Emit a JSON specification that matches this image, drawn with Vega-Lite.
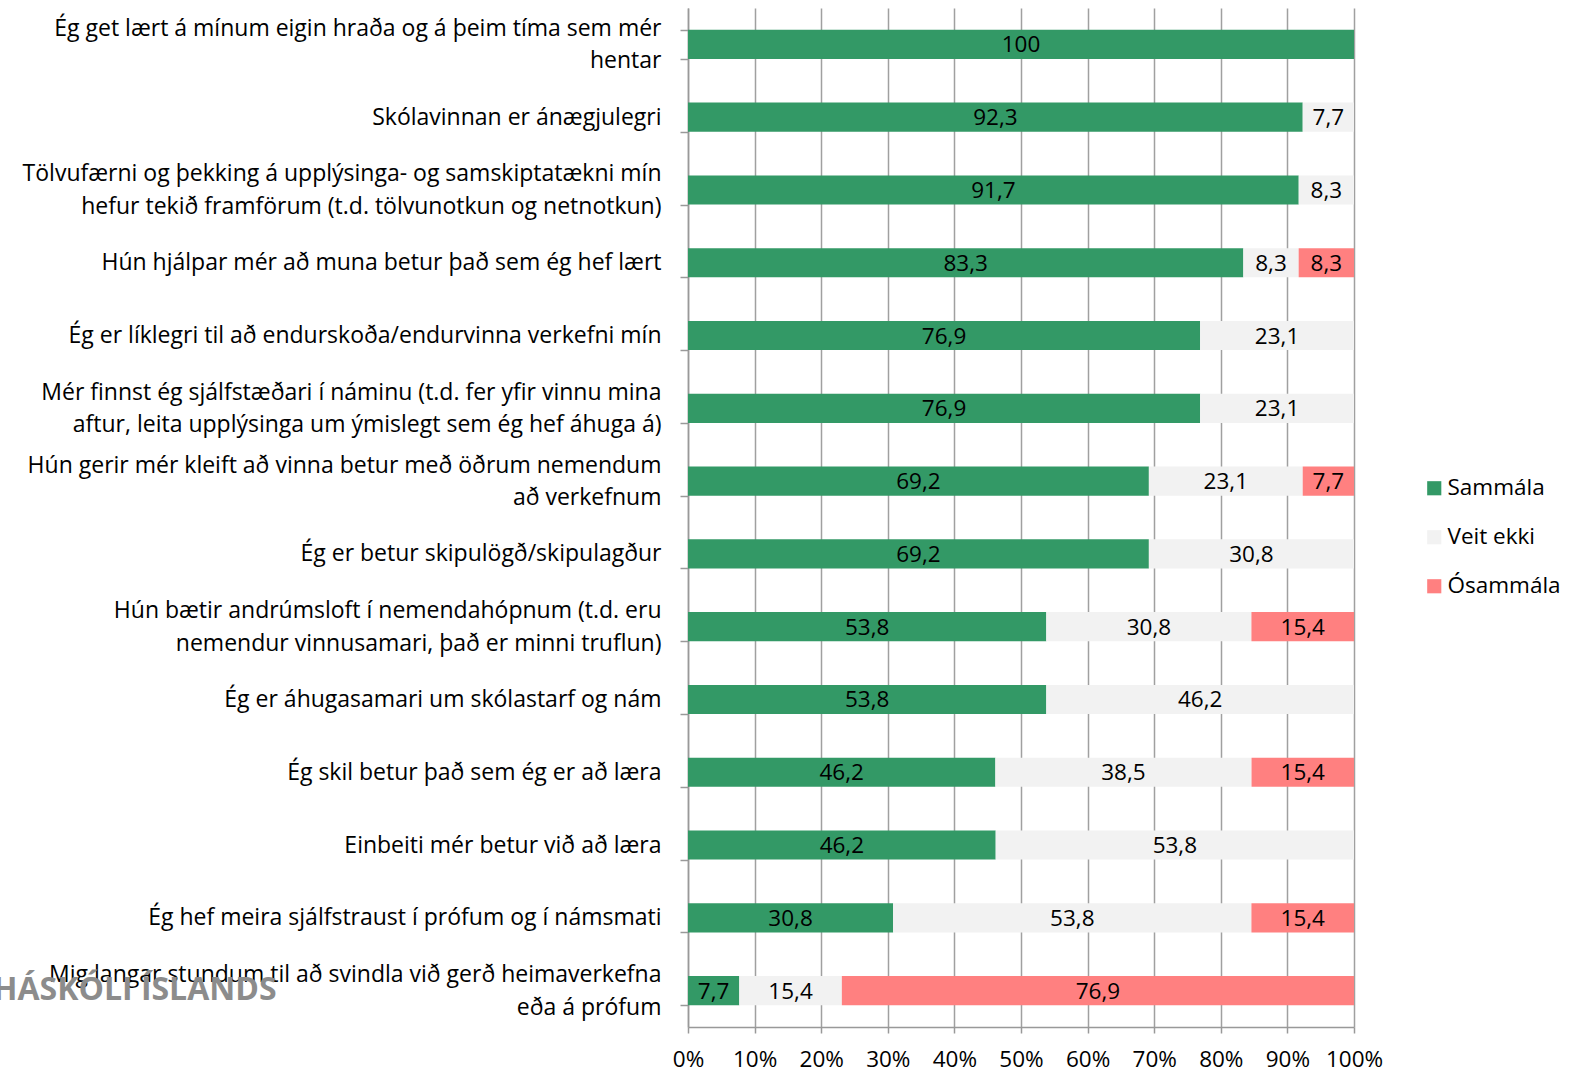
{
  "$schema": "https://vega.github.io/schema/vega-lite/v6.json",
  "width": 666,
  "height": 1019,
  "autosize": {"type": "none"},
  "padding": {"left": 688, "top": 8, "right": 222, "bottom": 45},
  "background": "white",
  "config": {
    "font": "Open Sans",
    "view": {"stroke": null},
    "locale": {"number": {"decimal": ",", "thousands": ".", "grouping": [3], "currency": ["", ""]}}
  },
  "title": {
    "text": "HÁSKÓLI ÍSLANDS",
    "orient": "bottom",
    "anchor": "start",
    "frame": "group",
    "dx": -695,
    "dy": -100,
    "font": "Open Sans",
    "fontSize": 32,
    "fontWeight": "bold",
    "color": "#8c8c8c"
  },
  "resolve": {"axis": {"y": "independent"}},
  "data": {
    "values": [
      {"q": "Ég get lært á mínum eigin hraða og á þeim tíma sem mér|hentar", "a": "Sammála", "v": 100},
      {"q": "Ég get lært á mínum eigin hraða og á þeim tíma sem mér|hentar", "a": "Veit ekki", "v": 0},
      {"q": "Ég get lært á mínum eigin hraða og á þeim tíma sem mér|hentar", "a": "Ósammála", "v": 0},
      {"q": "Skólavinnan er ánægjulegri", "a": "Sammála", "v": 92.3},
      {"q": "Skólavinnan er ánægjulegri", "a": "Veit ekki", "v": 7.7},
      {"q": "Skólavinnan er ánægjulegri", "a": "Ósammála", "v": 0},
      {"q": "Tölvufærni og þekking á upplýsinga- og samskiptatækni mín|hefur tekið framförum (t.d. tölvunotkun og netnotkun)", "a": "Sammála", "v": 91.7},
      {"q": "Tölvufærni og þekking á upplýsinga- og samskiptatækni mín|hefur tekið framförum (t.d. tölvunotkun og netnotkun)", "a": "Veit ekki", "v": 8.3},
      {"q": "Tölvufærni og þekking á upplýsinga- og samskiptatækni mín|hefur tekið framförum (t.d. tölvunotkun og netnotkun)", "a": "Ósammála", "v": 0},
      {"q": "Hún hjálpar mér að muna betur það sem ég hef lært", "a": "Sammála", "v": 83.3},
      {"q": "Hún hjálpar mér að muna betur það sem ég hef lært", "a": "Veit ekki", "v": 8.3},
      {"q": "Hún hjálpar mér að muna betur það sem ég hef lært", "a": "Ósammála", "v": 8.3},
      {"q": "Ég er líklegri til að endurskoða/endurvinna verkefni mín", "a": "Sammála", "v": 76.9},
      {"q": "Ég er líklegri til að endurskoða/endurvinna verkefni mín", "a": "Veit ekki", "v": 23.1},
      {"q": "Ég er líklegri til að endurskoða/endurvinna verkefni mín", "a": "Ósammála", "v": 0},
      {"q": "Mér finnst ég sjálfstæðari í náminu (t.d. fer yfir vinnu mina|aftur, leita upplýsinga um ýmislegt sem ég hef áhuga á)", "a": "Sammála", "v": 76.9},
      {"q": "Mér finnst ég sjálfstæðari í náminu (t.d. fer yfir vinnu mina|aftur, leita upplýsinga um ýmislegt sem ég hef áhuga á)", "a": "Veit ekki", "v": 23.1},
      {"q": "Mér finnst ég sjálfstæðari í náminu (t.d. fer yfir vinnu mina|aftur, leita upplýsinga um ýmislegt sem ég hef áhuga á)", "a": "Ósammála", "v": 0},
      {"q": "Hún gerir mér kleift að vinna betur með öðrum nemendum|að verkefnum", "a": "Sammála", "v": 69.2},
      {"q": "Hún gerir mér kleift að vinna betur með öðrum nemendum|að verkefnum", "a": "Veit ekki", "v": 23.1},
      {"q": "Hún gerir mér kleift að vinna betur með öðrum nemendum|að verkefnum", "a": "Ósammála", "v": 7.7},
      {"q": "Ég er betur skipulögð/skipulagður", "a": "Sammála", "v": 69.2},
      {"q": "Ég er betur skipulögð/skipulagður", "a": "Veit ekki", "v": 30.8},
      {"q": "Ég er betur skipulögð/skipulagður", "a": "Ósammála", "v": 0},
      {"q": "Hún bætir andrúmsloft í nemendahópnum (t.d. eru|nemendur vinnusamari, það er minni truflun)", "a": "Sammála", "v": 53.8},
      {"q": "Hún bætir andrúmsloft í nemendahópnum (t.d. eru|nemendur vinnusamari, það er minni truflun)", "a": "Veit ekki", "v": 30.8},
      {"q": "Hún bætir andrúmsloft í nemendahópnum (t.d. eru|nemendur vinnusamari, það er minni truflun)", "a": "Ósammála", "v": 15.4},
      {"q": "Ég er áhugasamari um skólastarf og nám", "a": "Sammála", "v": 53.8},
      {"q": "Ég er áhugasamari um skólastarf og nám", "a": "Veit ekki", "v": 46.2},
      {"q": "Ég er áhugasamari um skólastarf og nám", "a": "Ósammála", "v": 0},
      {"q": "Ég skil betur það sem ég er að læra", "a": "Sammála", "v": 46.2},
      {"q": "Ég skil betur það sem ég er að læra", "a": "Veit ekki", "v": 38.5},
      {"q": "Ég skil betur það sem ég er að læra", "a": "Ósammála", "v": 15.4},
      {"q": "Einbeiti mér betur við að læra", "a": "Sammála", "v": 46.2},
      {"q": "Einbeiti mér betur við að læra", "a": "Veit ekki", "v": 53.8},
      {"q": "Einbeiti mér betur við að læra", "a": "Ósammála", "v": 0},
      {"q": "Ég hef meira sjálfstraust í prófum og í námsmati", "a": "Sammála", "v": 30.8},
      {"q": "Ég hef meira sjálfstraust í prófum og í námsmati", "a": "Veit ekki", "v": 53.8},
      {"q": "Ég hef meira sjálfstraust í prófum og í námsmati", "a": "Ósammála", "v": 15.4},
      {"q": "Mig langar stundum til að svindla við gerð heimaverkefna|eða á prófum", "a": "Sammála", "v": 7.7},
      {"q": "Mig langar stundum til að svindla við gerð heimaverkefna|eða á prófum", "a": "Veit ekki", "v": 15.4},
      {"q": "Mig langar stundum til að svindla við gerð heimaverkefna|eða á prófum", "a": "Ósammála", "v": 76.9}
    ]
  },
  "transform": [
    {"stack": "v", "groupby": ["q"], "sort": [{"field": "a", "order": "ascending"}], "offset": "normalize", "as": ["x0", "x1"]},
    {"calculate": "(datum.x0 + datum.x1) / 2", "as": "xm"}
  ],
  "layer": [
    {
      "mark": {"type": "bar"},
      "encoding": {
        "y": {
          "field": "q",
          "type": "nominal",
          "sort": [
            "Ég get lært á mínum eigin hraða og á þeim tíma sem mér|hentar",
            "Skólavinnan er ánægjulegri",
            "Tölvufærni og þekking á upplýsinga- og samskiptatækni mín|hefur tekið framförum (t.d. tölvunotkun og netnotkun)",
            "Hún hjálpar mér að muna betur það sem ég hef lært",
            "Ég er líklegri til að endurskoða/endurvinna verkefni mín",
            "Mér finnst ég sjálfstæðari í náminu (t.d. fer yfir vinnu mina|aftur, leita upplýsinga um ýmislegt sem ég hef áhuga á)",
            "Hún gerir mér kleift að vinna betur með öðrum nemendum|að verkefnum",
            "Ég er betur skipulögð/skipulagður",
            "Hún bætir andrúmsloft í nemendahópnum (t.d. eru|nemendur vinnusamari, það er minni truflun)",
            "Ég er áhugasamari um skólastarf og nám",
            "Ég skil betur það sem ég er að læra",
            "Einbeiti mér betur við að læra",
            "Ég hef meira sjálfstraust í prófum og í námsmati",
            "Mig langar stundum til að svindla við gerð heimaverkefna|eða á prófum"
          ],
          "scale": {"paddingInner": 0.6, "paddingOuter": 0.3},
          "axis": {
            "title": null,
            "orient": "left",
            "labelExpr": "indexof(datum.label, '|') >= 0 ? '' : datum.label",
            "labelFontSize": 23,
            "labelColor": "black",
            "labelLimit": 700,
            "labelPadding": 19,
            "tickBand": "extent",
            "tickSize": 8,
            "tickColor": "#999999",
            "tickWidth": 1.5,
            "domainColor": "#999999",
            "domainWidth": 1.5,
            "grid": false
          }
        },
        "x": {
          "field": "x0",
          "type": "quantitative",
          "scale": {"domain": [0, 1], "nice": false},
          "axis": {
            "title": null,
            "format": ".0%",
            "values": [0, 0.1, 0.2, 0.3, 0.4, 0.5, 0.6, 0.7, 0.8, 0.9, 1],
            "labelFontSize": 22.5,
            "labelColor": "black",
            "labelPadding": 15,
            "labelFlush": false,
            "labelOverlap": false,
            "tickSize": 6,
            "tickColor": "#999999",
            "tickWidth": 1.5,
            "domainColor": "#999999",
            "domainWidth": 1.5,
            "grid": true,
            "gridColor": "#a0a0a0",
            "gridWidth": 1.5,
            "gridOpacity": 1
          }
        },
        "x2": {"field": "x1"},
        "color": {
          "field": "a",
          "type": "nominal",
          "scale": {"domain": ["Sammála", "Veit ekki", "Ósammála"], "range": ["#339966", "#F2F2F2", "#FF8080"]},
          "legend": {
            "title": null,
            "orient": "none",
            "legendX": 735,
            "legendY": 469,
            "symbolType": "square",
            "symbolSize": 200,
            "symbolStrokeWidth": 0,
            "labelFontSize": 22.5,
            "labelColor": "black",
            "labelOffset": 2,
            "rowPadding": 26
          }
        }
      }
    },
    {
      "transform": [{"filter": "datum.v > 0"}],
      "mark": {"type": "text", "fontSize": 22.5, "color": "black", "baseline": "middle", "dy": 1},
      "encoding": {
        "y": {
          "field": "q",
          "type": "nominal",
          "sort": [
            "Ég get lært á mínum eigin hraða og á þeim tíma sem mér|hentar",
            "Skólavinnan er ánægjulegri",
            "Tölvufærni og þekking á upplýsinga- og samskiptatækni mín|hefur tekið framförum (t.d. tölvunotkun og netnotkun)",
            "Hún hjálpar mér að muna betur það sem ég hef lært",
            "Ég er líklegri til að endurskoða/endurvinna verkefni mín",
            "Mér finnst ég sjálfstæðari í náminu (t.d. fer yfir vinnu mina|aftur, leita upplýsinga um ýmislegt sem ég hef áhuga á)",
            "Hún gerir mér kleift að vinna betur með öðrum nemendum|að verkefnum",
            "Ég er betur skipulögð/skipulagður",
            "Hún bætir andrúmsloft í nemendahópnum (t.d. eru|nemendur vinnusamari, það er minni truflun)",
            "Ég er áhugasamari um skólastarf og nám",
            "Ég skil betur það sem ég er að læra",
            "Einbeiti mér betur við að læra",
            "Ég hef meira sjálfstraust í prófum og í námsmati",
            "Mig langar stundum til að svindla við gerð heimaverkefna|eða á prófum"
          ],
          "scale": {"paddingInner": 0.6, "paddingOuter": 0.3},
          "axis": {
            "title": null,
            "orient": "left",
            "offset": 0,
            "labelExpr": "indexof(datum.label, '|') >= 0 ? split(datum.label, '|') : ''",
            "labelFontSize": 23,
            "labelColor": "black",
            "labelLineHeight": 32.5,
            "labelOffset": -16,
            "labelLimit": 700,
            "labelPadding": 19,
            "tickBand": "extent",
            "tickSize": 8,
            "tickOpacity": 0,
            "domain": false,
            "grid": false
          }
        },
        "x": {"field": "xm", "type": "quantitative"},
        "text": {"field": "v", "type": "quantitative", "format": ".1~f"}
      }
    }
  ]
}
